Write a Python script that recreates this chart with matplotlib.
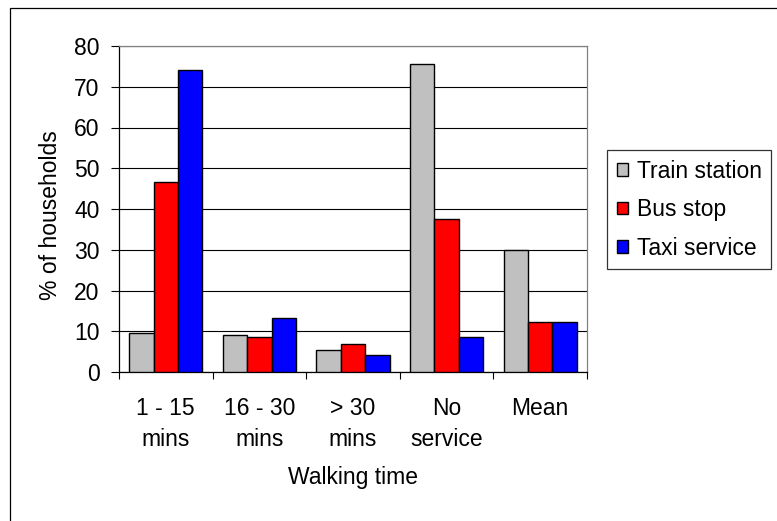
import numpy as np
import matplotlib
matplotlib.use("Agg")
import matplotlib.pyplot as plt
from matplotlib.patches import Rectangle

# ---------------- DATA ---------------- #

categories = ["1 - 15\nmins", "16 - 30\nmins", "> 30\nmins", "No\nservice", "Mean"]

train_station = [9.5, 9.1, 5.4, 75.7, 29.9]
bus_stop = [46.7, 8.7, 6.9, 37.6, 12.2]
taxi_service = [74.0, 13.2, 4.1, 8.6, 12.2]

series_names = ["Train station", "Bus stop", "Taxi service"]
series_colors = ["#C0C0C0", "#FF0000", "#0000FF"]

y_ticks = [0, 10, 20, 30, 40, 50, 60, 70, 80]

# ---------------- STYLE ---------------- #

plt.rcParams["font.family"] = ["Liberation Sans", "DejaVu Sans"]
FONT_SIZE = 16.5

# ---------------- PLOT ---------------- #

fig = plt.figure(figsize=(7.77, 5.21), dpi=100)
ax = fig.add_axes([119 / 777, 1 - 372 / 521, 468 / 777, 326 / 521])

x = np.arange(len(categories))
bar_width = 0.26
all_series = [train_station, bus_stop, taxi_service]

for i, (values, name, color) in enumerate(zip(all_series, series_names, series_colors)):
    ax.bar(
        x + (i - 1) * bar_width,
        values,
        width=bar_width,
        color=color,
        edgecolor="black",
        linewidth=1.0,
        label=name,
        zorder=3
    )

ax.set_xlim(-0.5, len(categories) - 0.5)
ax.set_ylim(0, 80)

# gridlines
ax.set_yticks(y_ticks)
ax.yaxis.grid(True, color="black", linewidth=0.8, zorder=0)
ax.set_axisbelow(True)

# ticks
ax.tick_params(axis="y", direction="out", length=6, width=0.8,
               labelsize=FONT_SIZE, pad=8, color="black")

ax.set_xticks(np.arange(len(categories) + 1) - 0.5)
ax.set_xticklabels([])
ax.tick_params(axis="x", which="major", direction="out", length=5, width=0.8)

ax.set_xticks(x, minor=True)
ax.set_xticklabels(categories, minor=True, fontsize=FONT_SIZE, linespacing=1.45)
ax.tick_params(axis="x", which="minor", length=0, pad=18)

# spines
ax.spines["left"].set_color("black")
ax.spines["bottom"].set_color("black")
ax.spines["top"].set_color("#808080")
ax.spines["right"].set_color("#808080")
for side in ["left", "bottom", "top", "right"]:
    ax.spines[side].set_linewidth(0.9)

# axis labels
ax.set_ylabel("% of households", fontsize=FONT_SIZE)
ax.yaxis.set_label_coords(-0.147, 0.48)
ax.yaxis.label.set_va("center")

ax.set_xlabel("Walking time", fontsize=FONT_SIZE)
ax.xaxis.set_label_coords(0.5, -0.325)
ax.xaxis.label.set_va("center")

# legend
leg = fig.legend(
    loc="upper left",
    bbox_to_anchor=(607 / 777, 1 - 150 / 521),
    fontsize=FONT_SIZE,
    frameon=True,
    fancybox=False,
    edgecolor="black",
    handlelength=0.48,
    handleheight=0.48,
    handletextpad=0.4,
    labelspacing=0.68,
    borderpad=0.42,
    borderaxespad=0
)
leg.get_frame().set_linewidth(0.9)

# outer chart border
fig.patches.append(Rectangle(
    (9.5 / 777, -0.05), 1.0, 1 - 7.5 / 521 + 0.05,
    transform=fig.transFigure,
    fill=False,
    edgecolor="black",
    linewidth=0.9
))

fig.savefig("out.png", dpi=100)
plt.close(fig)
